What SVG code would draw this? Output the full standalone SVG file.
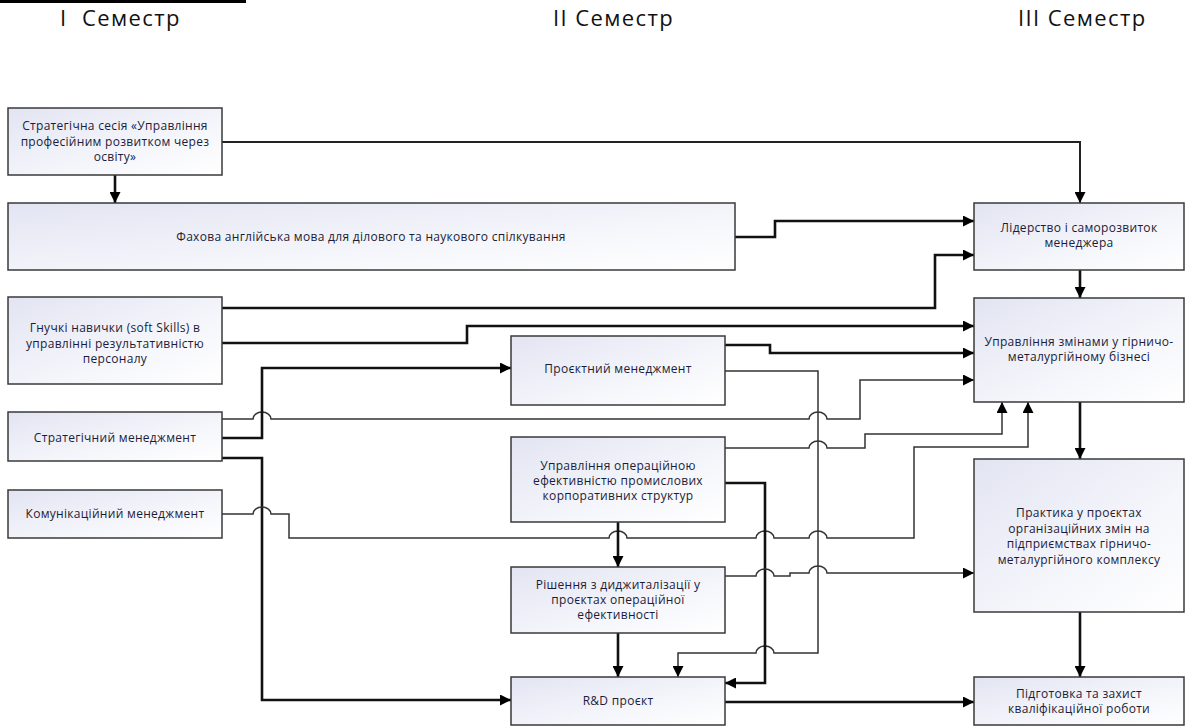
<svg xmlns="http://www.w3.org/2000/svg" width="1193" height="728" viewBox="0 0 1193 728">
<style>
.box{stroke:#3a3a3a;stroke-width:1.5;fill:url(#g)}
.t{font-family:"Open Sans","Noto Sans",sans-serif;font-size:12px;font-weight:500;letter-spacing:0.3px;fill:#1c1c38;text-anchor:middle}
.h{font-family:"Open Sans","Noto Sans",sans-serif;font-size:22px;font-weight:500;letter-spacing:1.4px;fill:#111}
.thick{fill:none;stroke:#111;stroke-width:2.6}
.med{fill:none;stroke:#222;stroke-width:2}
.thin{fill:none;stroke:#333;stroke-width:1.5}
.arr{marker-end:url(#a)}
</style>
<defs>
<linearGradient id="g" x1="0" y1="0" x2="1" y2="1">
<stop offset="0" stop-color="#e2e4f2"/>
<stop offset="0.6" stop-color="#f5f6fb"/>
<stop offset="1" stop-color="#ffffff"/>
</linearGradient>
<marker id="a" markerUnits="userSpaceOnUse" markerWidth="11" markerHeight="11" refX="11" refY="5.5" orient="auto">
<path d="M0,0 L11,5.5 L0,11 z" fill="#000"/>
</marker>
</defs>
<rect width="1193" height="728" fill="#fff"/>
<line x1="0" y1="1.5" x2="246" y2="1.5" stroke="#000" stroke-width="3"/>
<text class="h" x="60" y="26"><tspan x="60">I</tspan><tspan x="82">Семестр</tspan></text>
<text class="h" x="553" y="26">II Семестр</text>
<text class="h" x="1018" y="26">III Семестр</text>

<g id="connectors">
<path class="med arr" d="M222,142 H1080 V203"/>
<path class="thick arr" d="M115,175 V203"/>
<path class="thick arr" d="M735,237 H775 V221 H974"/>
<path class="thick arr" d="M222,308 H935 V255 H974"/>
<path class="thick arr" d="M222,343 H467 V326 H974"/>
<path class="thick arr" d="M725,345 H770 V353 H974"/>
<path class="thin arr" d="M725,371 H818 V653 H774 a9,7 0 0 0 -18 0 H678 V677"/>
<path class="thin arr" d="M222,419 H253 a9,7 0 0 1 18 0 H809 a9,7 0 0 1 18 0 H860 V380 H974"/>
<path class="thick arr" d="M222,438 H262 V368 H511"/>
<path class="thick arr" d="M222,458 H262 V700 H511"/>
<path class="thin arr" d="M222,514 H253 a9,7 0 0 1 18 0 H289 V538 H609 a9,7 0 0 1 18 0 H756 a9,7 0 0 1 18 0 H809 a9,7 0 0 1 18 0 H914 V447 H1028 V402"/>
<path class="thin arr" d="M725,448 H809 a9,7 0 0 1 18 0 H865 V434 H1002 V402"/>
<path class="thick arr" d="M725,483 H765 V683 H725"/>
<path class="thick arr" d="M618,522 V567"/>
<path class="thin arr" d="M725,576 H756 a9,7 0 0 1 18 0 H790 V573 H809 a9,7 0 0 1 18 0 H974"/>
<path class="thick arr" d="M618,633 V677"/>
<path class="thick arr" d="M725,702 H974"/>
<path class="thick arr" d="M1080,270 V298"/>
<path class="thick arr" d="M1080,402 V459"/>
<path class="thick arr" d="M1080,612 V677"/>
</g>

<g id="n1"><rect class="box" x="8" y="108" width="214" height="67"/>
<text class="t" x="115" y="130"><tspan x="115">Стратегічна сесія «Управління</tspan><tspan x="115" dy="15.5">професійним розвитком через</tspan><tspan x="115" dy="15.5">освіту»</tspan></text></g>
<g id="n2"><rect class="box" x="8" y="203" width="727" height="67"/>
<text class="t" x="371" y="241">Фахова англійська мова для ділового та наукового спілкування</text></g>
<g id="n3"><rect class="box" x="8" y="297" width="214" height="87"/>
<text class="t" x="115" y="332"><tspan x="115">Гнучкі навички (soft Skills) в</tspan><tspan x="115" dy="15.5">управлінні результативністю</tspan><tspan x="115" dy="15.5">персоналу</tspan></text></g>
<g id="n4"><rect class="box" x="8" y="412" width="214" height="49"/>
<text class="t" x="115" y="442">Стратегічний менеджмент</text></g>
<g id="n5"><rect class="box" x="8" y="490" width="214" height="48"/>
<text class="t" x="115" y="518">Комунікаційний менеджмент</text></g>
<g id="n6"><rect class="box" x="511" y="336" width="214" height="69"/>
<text class="t" x="618" y="373">Проєктний менеджмент</text></g>
<g id="n7"><rect class="box" x="511" y="437" width="214" height="85"/>
<text class="t" x="618" y="470"><tspan x="618">Управління операційною</tspan><tspan x="618" dy="15">ефективністю промислових</tspan><tspan x="618" dy="15">корпоративних структур</tspan></text></g>
<g id="n8"><rect class="box" x="511" y="567" width="214" height="66"/>
<text class="t" x="618" y="589"><tspan x="618">Рішення з диджиталізації у</tspan><tspan x="618" dy="15">проєктах операційної</tspan><tspan x="618" dy="15">ефективності</tspan></text></g>
<g id="n9"><rect class="box" x="511" y="677" width="214" height="48"/>
<text class="t" x="618" y="705">R&amp;D проєкт</text></g>
<g id="n10"><rect class="box" x="974" y="203" width="210" height="67"/>
<text class="t" x="1079" y="232"><tspan x="1079">Лідерство і саморозвиток</tspan><tspan x="1079" dy="15">менеджера</tspan></text></g>
<g id="n11"><rect class="box" x="974" y="298" width="210" height="104"/>
<text class="t" x="1079" y="346"><tspan x="1079">Управління змінами у гірничо-</tspan><tspan x="1079" dy="15">металургійному бізнесі</tspan></text></g>
<g id="n12"><rect class="box" x="974" y="459" width="210" height="153"/>
<text class="t" x="1079" y="517"><tspan x="1079">Практика у проєктах</tspan><tspan x="1079" dy="15.5">організаційних змін на</tspan><tspan x="1079" dy="15.5">підприємствах гірничо-</tspan><tspan x="1079" dy="15.5">металургійного комплексу</tspan></text></g>
<g id="n13"><rect class="box" x="974" y="677" width="210" height="48"/>
<text class="t" x="1079" y="698"><tspan x="1079">Підготовка та захист</tspan><tspan x="1079" dy="15">кваліфікаційної роботи</tspan></text></g>
</svg>
